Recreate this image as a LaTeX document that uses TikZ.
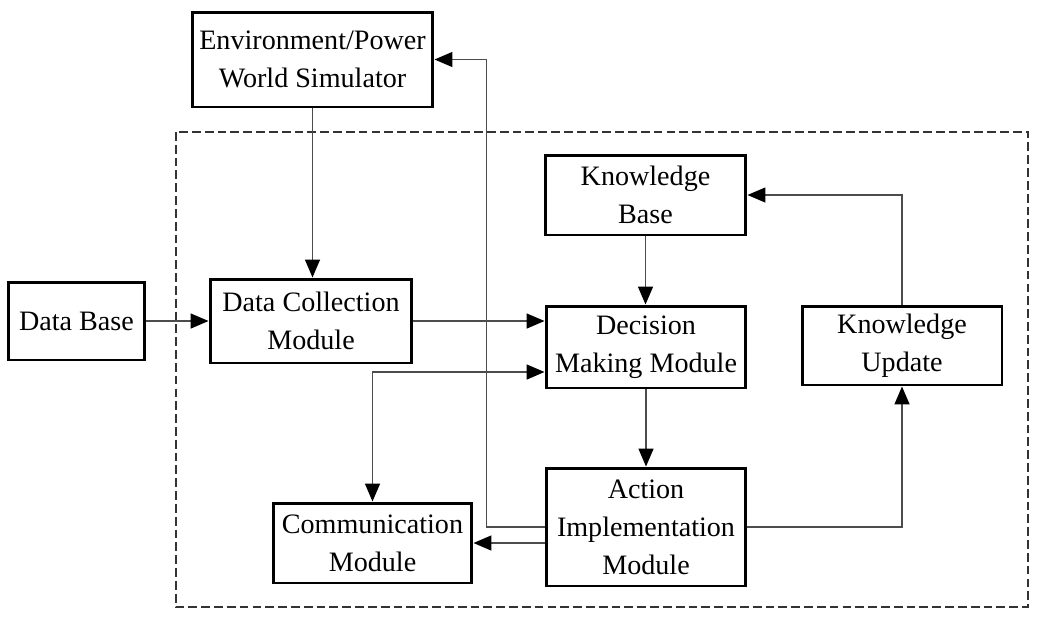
\documentclass[tikz,border=0pt]{standalone}
\usepackage{fontspec}
\setmainfont{Liberation Serif}
\usetikzlibrary{arrows.meta,positioning}
\tikzset{
  blk/.style={draw,line width=1.7pt,align=center,inner sep=0pt,
    font=\fontsize{16}{21.6}\selectfont},
  tip/.tip={Triangle[length=0.36cm,width=0.3cm,color=black]},
  conn/.style={draw=black!70,line width=0.85pt,-tip}
}
\begin{document}
\begin{tikzpicture}[x=0.02cm,y=-0.02cm]
\useasboundingbox (0,0) rectangle (1054,619);
\draw[black!80,line width=0.6pt,dash pattern=on 5pt off 2.3pt] (176,132) rectangle (1028,607);
\node[blk,minimum width=4.82cm,minimum height=1.9cm] (env) at (312.5,59.5) {Environment/Power\\World Simulator};
\node[blk,minimum width=2.74cm,minimum height=1.56cm] (db) at (76.5,321) {Data Base};
\node[blk,minimum width=4.04cm,minimum height=1.68cm] (dc) at (311,321) {Data Collection\\Module};
\node[blk,minimum width=4.02cm,minimum height=1.6cm] (kb) at (645.5,195) {Knowledge\\Base};
\node[blk,minimum width=4cm,minimum height=1.64cm] (dm) at (646,347) {Decision\\Making Module};
\node[blk,minimum width=4cm,minimum height=1.58cm] (ku) at (902,345.5) {Knowledge\\Update};
\node[blk,minimum width=3.98cm,minimum height=1.6cm] (cm) at (372.5,543) {Communication\\Module};
\node[blk,minimum width=4cm,minimum height=2.36cm] (ai) at (646,527) {Action\\Implementation\\Module};
\draw[conn] (env.south) -- (env.south |- dc.north);
\draw[conn] (db.east) -- (dc.west);
\draw[conn] (dc.east) -- (dc.east -| dm.west);
\draw[conn] (kb.south) -- (kb.south |- dm.north);
\draw[conn] (dm.south) -- (ai.north);
\draw[conn] (ai.east) -| (ku.south);
\draw[conn] (ku.north) |- (kb.east);
\draw[conn] (ai.west) -- ++(-58,0) |- (env.east);
\draw[conn] (ai.west |- cm.east) -- (cm.east);
\draw[conn,tip-tip] ([yshift=-0.5cm]dm.west) -| (cm.north);
\end{tikzpicture}
\end{document}
